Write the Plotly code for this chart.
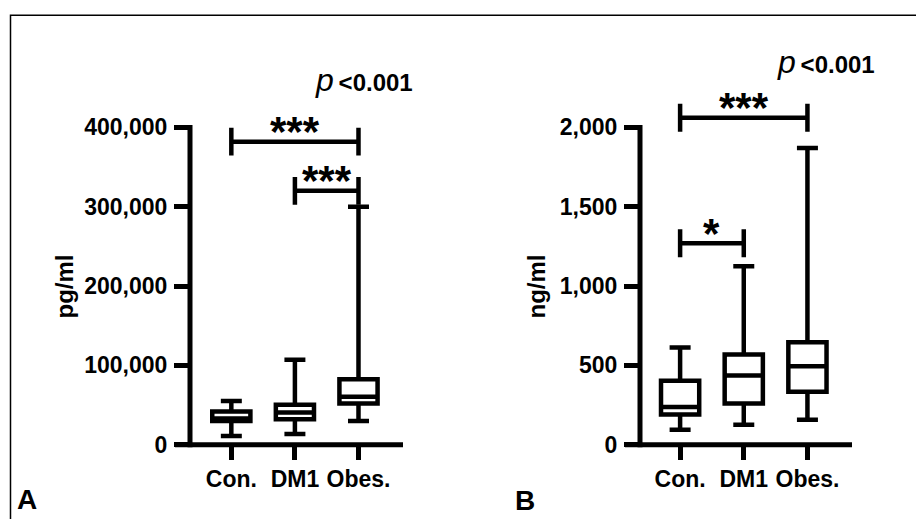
import plotly.graph_objects as go

categories = ["Con.", "DM1", "Obes."]

# Panel A (pg/ml): box statistics
a_lower = [11000, 13500, 30000]
a_q1 = [30000, 32000, 52000]
a_median = [33000, 40500, 60500]
a_q3 = [42000, 50500, 82500]
a_upper = [55000, 107000, 300000]
a_tickvals = [0, 100000, 200000, 300000, 400000]
a_ticktext = ["0", "100,000", "200,000", "300,000", "400,000"]
a_comparisons = [(0, 2, 382000, "***"), (1, 2, 320000, "***")]

# Panel B (ng/ml)
b_lower = [95, 126, 157]
b_q1 = [190, 260, 334]
b_median = [237, 436, 495]
b_q3 = [403, 568, 645]
b_upper = [612, 1125, 1870]
b_tickvals = [0, 500, 1000, 1500, 2000]
b_ticktext = ["0", "500", "1,000", "1,500", "2,000"]
b_comparisons = [(0, 2, 2060, "***"), (0, 1, 1270, "*")]

p_text = "<span style=\"font-size:32px\"><i>p</i></span>&#8201;<b>&lt;0.001</b>"

# page geometry: browser body margin kept; the captured page height is a bit
# taller than the picture, so vertical target positions are scaled up.
BODY_M = 8
W, H = 908, 517
CAPTURE_SCALE_Y = 519 / 533
FONT = "Liberation Sans, Arial, Helvetica, sans-serif"


def px_x(p):
    return (p - BODY_M) / W


def px_y(p):
    return 1 - (p / CAPTURE_SCALE_Y - BODY_M) / H


Y0_PX, YTOP_TICK_PX, AREA_TOP_PX = 444, 127, 40
dom_y = [px_y(Y0_PX), px_y(AREA_TOP_PX)]
a_max = a_tickvals[-1] * (Y0_PX - AREA_TOP_PX) / (Y0_PX - YTOP_TICK_PX)
b_max = b_tickvals[-1] * (Y0_PX - AREA_TOP_PX) / (Y0_PX - YTOP_TICK_PX)

fig = go.Figure()

panels = [
    ("x", "y", a_lower, a_q1, a_median, a_q3, a_upper),
    ("x2", "y2", b_lower, b_q1, b_median, b_q3, b_upper),
]
for xa, ya, lo, q1, med, q3, up in panels:
    for i, c in enumerate(categories):
        fig.add_trace(go.Box(
            x=[c], q1=[q1[i]], median=[med[i]], q3=[q3[i]],
            lowerfence=[lo[i]], upperfence=[up[i]],
            width=0.6, whiskerwidth=0.55, boxpoints=False,
            fillcolor="white", line=dict(color="black", width=4.5),
            xaxis=xa, yaxis=ya, showlegend=False, hoverinfo="skip",
        ))

tick_common = dict(ticks="outside", tickcolor="black", tickwidth=4.5,
                   showgrid=False, zeroline=False, showline=False)

fig.update_layout(
    width=W, height=H, autosize=False, margin=dict(l=0, r=0, t=0, b=0),
    paper_bgcolor="white", plot_bgcolor="white",
    font=dict(family=FONT, color="black"),
    xaxis=dict(domain=[px_x(190), px_x(403)], type="category",
               categoryorder="array", categoryarray=categories,
               range=[-0.65, 2.7], ticklen=14, anchor="y",
               tickfont=dict(size=23, weight="bold", family=FONT, color="black"),
               **tick_common),
    yaxis=dict(domain=dom_y, range=[0, a_max], tickvals=a_tickvals,
               ticktext=a_ticktext, ticklen=15, anchor="x", ticklabelstandoff=2,
               tickfont=dict(size=23, weight="bold", family=FONT, color="black"),
               **tick_common),
    xaxis2=dict(domain=[px_x(640), px_x(852)], type="category",
                categoryorder="array", categoryarray=categories,
                range=[-0.63, 2.7], ticklen=14, anchor="y2",
                tickfont=dict(size=23, weight="bold", family=FONT, color="black"),
                **tick_common),
    yaxis2=dict(domain=dom_y, range=[0, b_max], tickvals=b_tickvals,
                ticktext=b_ticktext, ticklen=15, anchor="x2", ticklabelstandoff=2,
                tickfont=dict(size=23, weight="bold", family=FONT, color="black"),
                **tick_common),
)

shapes = []
AXW = 5
for xa, ya, top_val, ymax, xl in [("x", "y", a_tickvals[-1], a_max, 213),
                                  ("x2", "y2", b_tickvals[-1], b_max, 212)]:
    shapes.append(dict(type="line", xref=f"{xa} domain", yref=f"{ya} domain",
                       x0=-15 / xl, x1=1, y0=0, y1=0,
                       line=dict(color="black", width=AXW)))
    shapes.append(dict(type="line", xref=f"{xa} domain", yref=f"{ya} domain",
                       x0=0, x1=0, y0=-0.006, y1=top_val / ymax + 0.006,
                       line=dict(color="black", width=AXW)))

annotations = []
for xa, ya, comps, half in [("x", "y", a_comparisons, 17500),
                            ("x2", "y2", b_comparisons, 88)]:
    for i0, i1, lvl, lab in comps:
        ln = dict(color="black", width=4.5)
        shapes.append(dict(type="line", xref=xa, yref=ya, x0=i0, x1=i1,
                           y0=lvl, y1=lvl, line=ln))
        for xi in (i0, i1):
            shapes.append(dict(type="line", xref=xa, yref=ya, x0=xi, x1=xi,
                               y0=lvl - half, y1=lvl + half, line=ln))
        annotations.append(dict(xref=xa, yref=ya, x=(i0 + i1) / 2, y=lvl,
                                text=f"<b>{lab}</b>", showarrow=False,
                                xanchor="center", yanchor="middle", yshift=10,
                                font=dict(size=42, family=FONT, color="black")))

shapes.append(dict(type="path", xref="paper", yref="paper",
                   path=f"M {px_x(10.5)},{px_y(560)} L {px_x(10.5)},{px_y(15)} L {px_x(940)},{px_y(15)}",
                   line=dict(color="black", width=1.5)))

for xp, ybot in [(313, 100), (775, 82)]:
    annotations.append(dict(xref="paper", yref="paper", x=px_x(xp), y=px_y(ybot),
                            xanchor="left", yanchor="bottom", showarrow=False,
                            text=p_text, font=dict(size=24, family=FONT, color="black")))

for xp, t in [(65, "pg/ml"), (537, "ng/ml")]:
    annotations.append(dict(xref="paper", yref="paper", x=px_x(xp), y=px_y(286),
                            xanchor="center", yanchor="middle", textangle=-90,
                            showarrow=False, text=f"<b>{t}</b>",
                            font=dict(size=24, family=FONT, color="black")))

for xp, ybot, t in [(15, 516, "A"), (513, 517, "B")]:
    annotations.append(dict(xref="paper", yref="paper", x=px_x(xp), y=px_y(ybot),
                            xanchor="left", yanchor="bottom", showarrow=False,
                            text=f"<b>{t}</b>",
                            font=dict(size=28, family=FONT, color="black")))

fig.update_layout(shapes=shapes, annotations=annotations)
fig.write_html("out.html", config={"displayModeBar": False})
